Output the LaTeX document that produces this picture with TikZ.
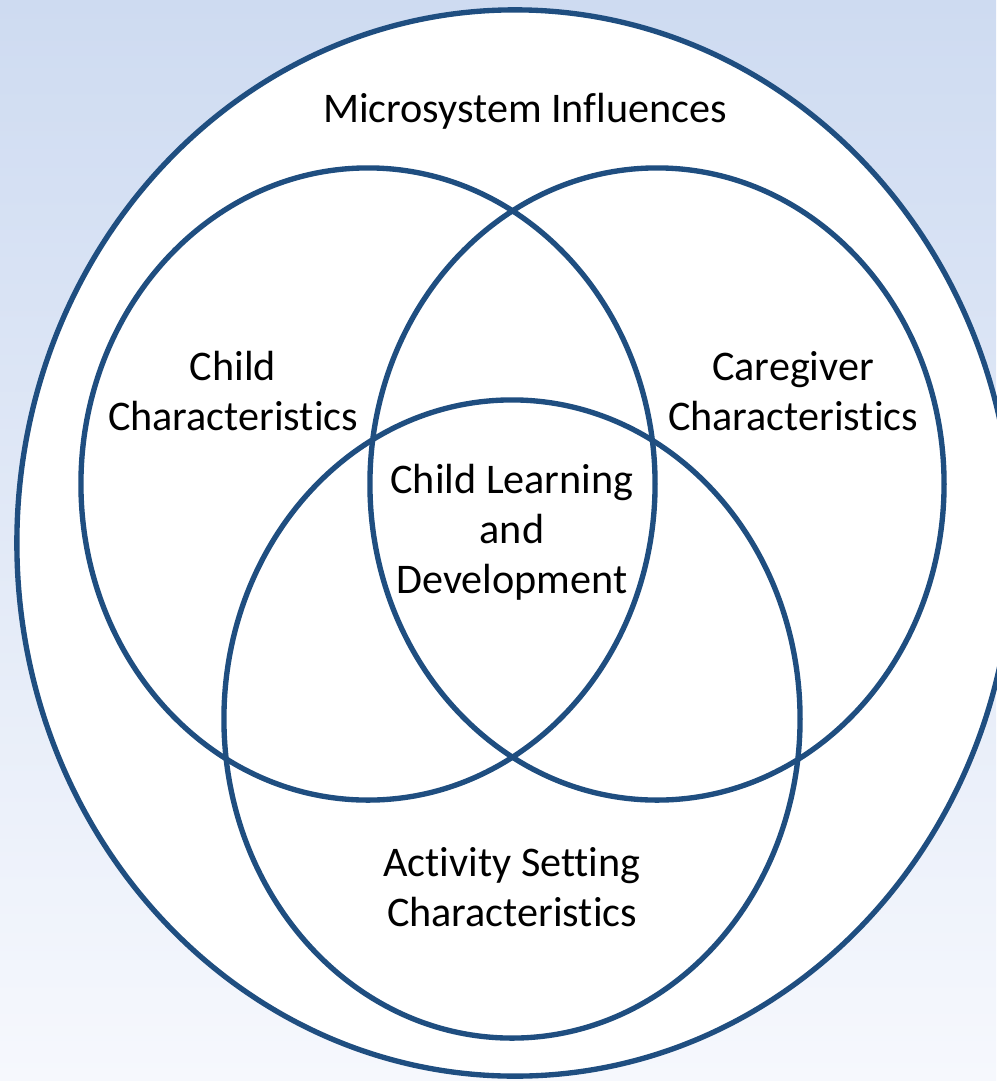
\documentclass[tikz,border=0pt]{standalone}
\usepackage{fontspec}
\setmainfont[Ligatures={NoCommon}]{Carlito}
\usetikzlibrary{shapes.geometric}

\definecolor{ringblue}{RGB}{31,78,128}
\definecolor{bgtop}{RGB}{206,219,241}
\definecolor{bgbottom}{RGB}{246,248,253}

\begin{document}
\begin{tikzpicture}[x=0.025cm, y=-0.025cm]
  \tikzstyle{ring}=[ellipse, draw=ringblue, line width=3.8pt, inner sep=0pt]
  \tikzstyle{venntext}=[align=center, font=\fontsize{30}{35.6}\selectfont]

  \shade[top color=bgtop, bottom color=bgbottom] (0,0) rectangle (996,1081);
  \useasboundingbox (0,0) rectangle (996,1081);

  \node[ring, fill=white, minimum width=24.9cm, minimum height=26.65cm] (micro) at (515,543) {};

  \node[ring, minimum width=14.35cm, minimum height=15.8cm] (child) at (368,484) {};
  \node[ring, minimum width=14.35cm, minimum height=15.8cm] (carer) at (657,484) {};
  \node[ring, minimum width=14.4cm, minimum height=15.95cm] (activity) at (512,719) {};

  \node[venntext] (microtext) at (525,111) {Microsystem Influences};
  \node[venntext] (childtext) at (233,391) {Child\\Characteristics};
  \node[venntext] (carertext) at (793,391) {Caregiver\\Characteristics};
  \node[venntext] (coretext) at (512,532) {Child Learning\\and\\Development};
  \node[venntext] (activitytext) at (512,887) {Activity Setting\\Characteristics};

\end{tikzpicture}
\end{document}
